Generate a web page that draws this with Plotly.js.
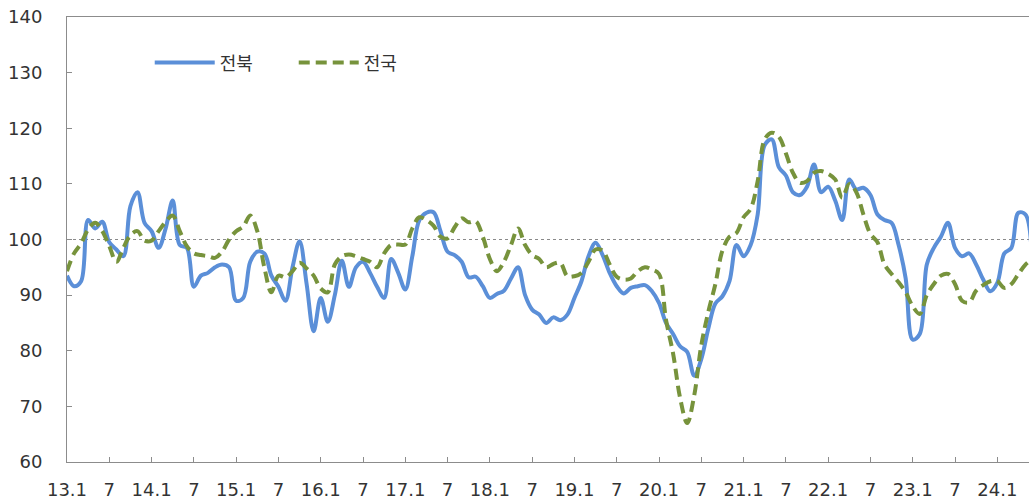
<!DOCTYPE html>
<html>
<head>
<meta charset="utf-8">
<script src="https://cdn.plot.ly/plotly-3.0.1.min.js"></script>
<style>html,body{margin:0;padding:0;background:#fff;}#chart{width:1029px;height:500px;}</style>
</head>
<body>
<div id="chart"></div>
<script>
// Monthly index values starting 2013.1
const jeonbuk = [
  93.5, 91.6, 92.5, 103.5, 102, 103.2, 99.5, 98.2, 97, 106,
  108.5, 103, 101.5, 98.5, 102, 107, 99, 98.5, 91.5, 93.5,
  94, 95, 95.5, 95, 89, 89.5, 96, 97.8, 97.5, 93.5,
  91.5, 89, 95, 99.7, 92, 83.5, 89.5, 85.2, 90, 96.2,
  91.5, 95, 96, 94, 91.5, 89.5, 96.5, 94, 91, 97,
  103.5, 104.8, 104.9, 101.5, 97.8, 97.2, 96, 93.2, 93.3, 91.6,
  89.5, 90.2, 90.8, 93, 95, 90, 87.4, 86.5, 85, 86,
  85.5, 86.5, 89.5, 92.5, 97, 99.4, 97.2, 94, 91.6, 90.3,
  91.3, 91.6, 91.8, 90.7, 88.6, 85, 83, 80.8, 79.8, 75.5,
  78.5, 84, 88.5, 89.8, 92.5, 99, 97, 99, 104.5, 117,
  118, 113, 111.5, 108.5, 108, 109.5, 113.5, 108.5, 109.5, 107,
  103.5, 110.8, 109, 109.3, 108, 104.5, 103.5, 103, 99, 93,
  82, 83, 95.5, 98.5, 100.5, 103, 98.5, 97, 97.5, 95.5,
  92.8, 90.7, 92.2, 97.5, 98.5, 104.8, 104.5, 93
];
const national = [
  94.3, 97.5, 99.3, 101.8, 103, 101.5, 98.8, 96, 98.5, 100.8,
  101.5, 99.8, 99.8, 101.5, 103.2, 104.3, 101.5, 98.8, 97.5, 97.2,
  97, 96.7, 97.8, 100, 101.5, 102.3, 104.3, 101.5, 95, 90.5,
  93.5, 93.2, 94.3, 95.8, 94.8, 93.5, 91.2, 90.5, 95.5, 97,
  97.3, 97, 96.5, 96, 95, 97.5, 99, 99.1, 99.1, 102,
  104, 103.5, 102.5, 100.5, 100.2, 102.2, 103.8, 103.1, 103.3, 100.5,
  96.5, 94.3, 96, 99, 102, 99, 97.2, 96.5, 95, 95.6,
  95.8, 93.4, 93.4, 94, 96, 98.2, 98, 95.5, 93.3, 92.8,
  93, 94.3, 95, 94.6, 93.8, 85.5, 79.5, 71.5, 67, 72,
  81, 87, 92, 98, 100.5, 101.2, 104, 105.5, 110.5, 118,
  119.2, 118.5, 115.5, 112, 110.2, 110.5, 112, 112.3, 111.8, 110.8,
  107.5, 110, 108.5, 104.5, 101, 99.5, 95.5, 93.8, 92.3, 90.5,
  88, 86.6, 90, 92, 93.5, 93.8, 92, 89, 88.7, 90.8,
  91.8, 92.5, 92.5, 91.3, 92, 93.8, 95.5, 96.5
];
const tickLabels = ['13.1','7','14.1','7','15.1','7','16.1','7','17.1','7','18.1','7',
  '19.1','7','20.1','7','21.1','7','22.1','7','23.1','7','24.1'];
const seriesNames = ['전북', '전국'];

const monthIdx = jeonbuk.map((_, i) => i);
const tickVals = tickLabels.map((_, i) => i * 6);

const axisColor = '#8c8c8c';
const textFont = {family: 'DejaVu Sans, Verdana, sans-serif', size: 18, color: '#333'};

const traces = [
  {x: monthIdx, y: jeonbuk, name: seriesNames[0], type: 'scatter', mode: 'lines',
   line: {color: '#5b8fd8', width: 4, shape: 'spline', smoothing: 1}},
  {x: monthIdx, y: national, name: seriesNames[1], type: 'scatter', mode: 'lines',
   line: {color: '#77933c', width: 4, dash: '11px,6px', shape: 'spline', smoothing: 1}}
];

const layout = {
  width: 1029, height: 500,
  margin: {l: 67, r: 0, t: 17, b: 38},
  paper_bgcolor: '#fff', plot_bgcolor: '#fff',
  showlegend: true,
  legend: {orientation: 'h', x: 0.086, y: 0.897, xanchor: 'left', yanchor: 'middle',
    font: {family: 'Noto Sans CJK KR, sans-serif', size: 18, color: '#333'},
    bgcolor: 'rgba(0,0,0,0)', itemwidth: 60, entrywidth: 69, entrywidthmode: 'pixels'},
  xaxis: {range: [0, 136.5], tickmode: 'array', tickvals: tickVals, ticktext: tickLabels,
    showgrid: false, zeroline: false, showline: true, linecolor: axisColor, linewidth: 1,
    mirror: true, ticks: 'inside', ticklen: 5, tickcolor: axisColor,
    tickfont: textFont, ticklabelstandoff: 11, fixedrange: true},
  yaxis: {range: [60, 140], dtick: 10, tick0: 60,
    showgrid: false, zeroline: false, showline: true, linecolor: axisColor, linewidth: 1,
    ticks: 'inside', ticklen: 5, tickcolor: axisColor,
    tickfont: textFont, ticklabelstandoff: 20, fixedrange: true},
  shapes: [{type: 'line', xref: 'paper', x0: 0, x1: 1, yref: 'y', y0: 100, y1: 100,
    layer: 'below', line: {color: '#8a8a8a', width: 1, dash: 'dot'}}]
};

Plotly.newPlot('chart', traces, layout, {displayModeBar: false, staticPlot: true});
</script>
</body>
</html>
